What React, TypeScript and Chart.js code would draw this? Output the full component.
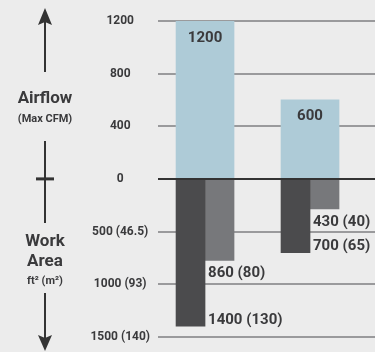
import { useEffect, useRef } from 'react';
import { Chart, registerables } from 'chart.js';

Chart.register(...registerables);

// ---- data ----
const categories = ['Unit A', 'Unit B'];
const airflowCfm = [1200, 600];
const workAreaLarge = [1400, 700];
const workAreaSmall = [775, 285];
const airflowLabels = ['1200', '600'];
const workAreaLargeLabels = ['1400 (130)', '700 (65)'];
const workAreaSmallLabels = ['860 (80)', '430 (40)'];
const yTickLabels = ['1500 (140)', '1000 (93)', '500 (46.5)', '0', '400', '800', '1200'];
const categoryPositions = [1, 2];
const AIRFLOW_STEP = 400; // CFM per gridline
const AREA_STEP = 500; // ft² per gridline

const FONT = 'Roboto, "Noto Sans", sans-serif';
const TEXT = '#3a3a3c';
const BLUE = '#aecbd7';
const DARK = '#4b4b4d';
const GREY = '#77787b';

const labelPlugin = {
  id: 'valueLabels',
  afterDatasetsDraw(chart: any) {
    const ctx = chart.ctx;
    const { left, right } = chart.chartArea;
    const y0 = chart.scales.y.getPixelForValue(0);
    ctx.save();
    ctx.strokeStyle = '#333333';
    ctx.lineWidth = 2;
    ctx.beginPath();
    ctx.moveTo(left, y0);
    ctx.lineTo(right, y0);
    ctx.stroke();

    ctx.fillStyle = TEXT;
    ctx.font = `bold 15px ${FONT}`;
    ctx.textBaseline = 'alphabetic';
    const blue = chart.getDatasetMeta(0).data;
    const dark = chart.getDatasetMeta(1).data;
    const grey = chart.getDatasetMeta(2).data;
    blue.forEach((b: any, i: number) => {
      ctx.textAlign = 'center';
      ctx.fillText(airflowLabels[i], b.x, b.y + 20.5);
    });
    dark.forEach((d: any, i: number) => {
      ctx.textAlign = 'left';
      const x = d.x + d.width / 2 + 3;
      ctx.fillText(workAreaLargeLabels[i], x, d.y - 2.5);
      const g = grey[i];
      ctx.fillText(workAreaSmallLabels[i], x, g.y + 17);
    });
    ctx.restore();
  },
  afterDraw(chart: any) {
    const ctx = chart.ctx;
    const y0 = chart.scales.y.getPixelForValue(0);
    const cx = 45;
    ctx.save();
    ctx.strokeStyle = '#333333';
    ctx.fillStyle = '#333333';
    ctx.lineWidth = 2;
    // up arrow
    ctx.beginPath();
    ctx.moveTo(cx, 22);
    ctx.lineTo(cx, 72);
    ctx.stroke();
    ctx.beginPath();
    ctx.moveTo(cx, 8);
    ctx.lineTo(cx - 7, 25);
    ctx.lineTo(cx, 22);
    ctx.lineTo(cx + 7, 25);
    ctx.closePath();
    ctx.fill();
    // middle line
    ctx.beginPath();
    ctx.moveTo(cx, 141);
    ctx.lineTo(cx, 223);
    ctx.stroke();
    ctx.lineWidth = 3;
    ctx.beginPath();
    ctx.moveTo(cx - 9, y0);
    ctx.lineTo(cx + 9, y0);
    ctx.stroke();
    // down arrow
    ctx.lineWidth = 2;
    ctx.beginPath();
    ctx.moveTo(cx, 293);
    ctx.lineTo(cx, 340);
    ctx.stroke();
    ctx.beginPath();
    ctx.moveTo(cx, 351);
    ctx.lineTo(cx - 7, 335);
    ctx.lineTo(cx, 338);
    ctx.lineTo(cx + 7, 335);
    ctx.closePath();
    ctx.fill();

    ctx.fillStyle = TEXT;
    ctx.textAlign = 'center';
    ctx.textBaseline = 'alphabetic';
    ctx.font = `bold 17px ${FONT}`;
    ctx.fillText('Airflow', cx, 103);
    ctx.fillText('Work', cx, 246);
    ctx.fillText('Area', cx, 265.5);
    ctx.font = `bold 11px ${FONT}`;
    ctx.fillText('(Max CFM)', cx, 121.5);
    ctx.fillText('ft² (m²)', cx, 284);
    ctx.restore();
  },
};

const xAxis = {
  type: 'linear',
  min: 0.552,
  max: 2.619,
  offset: false,
  display: false,
  grid: { offset: false },
};

export default function App() {
  const ref = useRef<HTMLCanvasElement>(null);
  useEffect(() => {
    if (!ref.current) return;
    const chart = new Chart(ref.current, {
      type: 'bar',
      data: {
        labels: categories,
        datasets: [
          {
            label: 'Airflow (Max CFM)',
            xAxisID: 'x2',
            data: categoryPositions.map((x, i) => ({ x, y: airflowCfm[i] / AIRFLOW_STEP })),
            backgroundColor: BLUE,
            barThickness: 58,
            grouped: false,
          },
          {
            label: 'Work area (large)',
            xAxisID: 'x',
            data: categoryPositions.map((x, i) => ({ x, y: -workAreaLarge[i] / AREA_STEP })),
            backgroundColor: DARK,
            barThickness: 29,
          },
          {
            label: 'Work area (small)',
            xAxisID: 'x',
            data: categoryPositions.map((x, i) => ({ x, y: -workAreaSmall[i] / AREA_STEP })),
            backgroundColor: GREY,
            barThickness: 29,
          },
        ] as any,
      },
      options: {
        animation: false,
        responsive: false,
        devicePixelRatio: 1,
        layout: { padding: { top: 21, bottom: 8, left: 0, right: 0 } },
        plugins: { legend: { display: false }, tooltip: { enabled: false } },
        scales: {
          x: { ...xAxis },
          x2: { ...xAxis },
          y: {
            min: -3,
            max: 3,
            border: { display: false },
            ticks: {
              stepSize: 1,
              crossAlign: 'center',
              padding: 8,
              color: TEXT,
              font: { family: FONT, size: 12, weight: 'bold' },
              callback: (v: any) => yTickLabels[Math.round(Number(v)) + 3] ?? '',
            },
            grid: {
              drawTicks: false,
              color: (c: any) => (c.tick && c.tick.value === 0 ? '#333333' : '#9a9a9c'),
              lineWidth: 2,
            },
            afterFit: (s: any) => {
              s.width = 158;
            },
          },
        },
      } as any,
      plugins: [labelPlugin],
    });
    return () => chart.destroy();
  }, []);
  return (
    <div style={{ position: 'absolute', left: 0, top: 0, width: 375, height: 352, background: '#ececec' }}>
      <canvas ref={ref} width={375} height={352} />
    </div>
  );
}
